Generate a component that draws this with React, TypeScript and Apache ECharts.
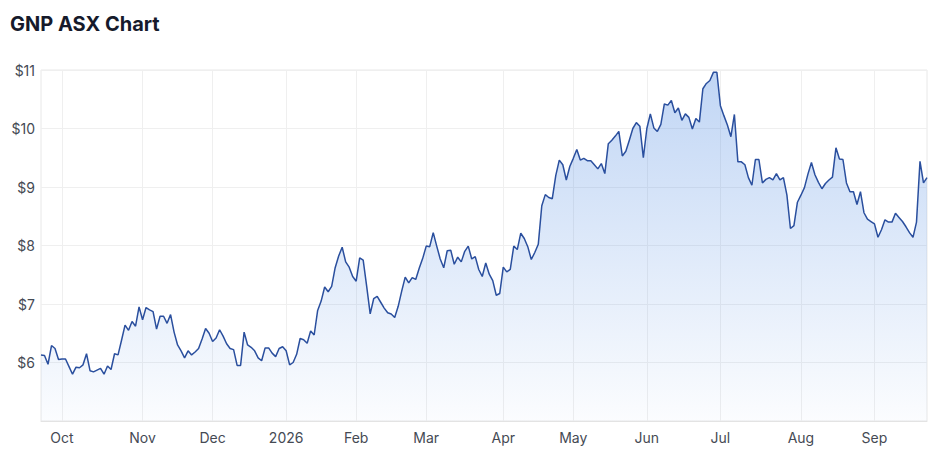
import React, { useEffect, useRef } from "react";
import * as echarts from "echarts";

// Trading days (ASX) from first to last point
const START_DATE = "2025-09-23";
const END_DATE = "2026-09-22";
const HOLIDAYS = [
  "2025-12-25", "2025-12-26", "2026-01-01", "2026-01-26",
  "2026-04-03", "2026-04-06", "2026-06-08",
];
const MONTH_NAMES = ["Jan", "Feb", "Mar", "Apr", "May", "Jun", "Jul", "Aug", "Sep", "Oct", "Nov", "Dec"];

// Daily closing prices
const PRICES = [
  6.13, 6.12, 5.97, 6.29, 6.24, 6.05, 6.06, 6.06, 5.93, 5.80,
  5.92, 5.91, 5.96, 6.15, 5.86, 5.84, 5.87, 5.90, 5.80, 5.94,
  5.88, 6.15, 6.13, 6.38, 6.64, 6.55, 6.70, 6.62, 6.95, 6.73,
  6.94, 6.90, 6.87, 6.57, 6.79, 6.79, 6.67, 6.82, 6.52, 6.30,
  6.20, 6.08, 6.20, 6.13, 6.18, 6.24, 6.40, 6.58, 6.50, 6.36,
  6.42, 6.56, 6.45, 6.32, 6.24, 6.22, 5.95, 5.95, 6.52, 6.30,
  6.26, 6.20, 6.08, 6.03, 6.25, 6.25, 6.16, 6.10, 6.24, 6.27,
  6.20, 5.96, 6.00, 6.14, 6.41, 6.39, 6.33, 6.54, 6.47, 6.89,
  7.05, 7.29, 7.21, 7.30, 7.62, 7.82, 7.97, 7.72, 7.63, 7.47,
  7.39, 7.79, 7.75, 7.30, 6.83, 7.09, 7.13, 7.03, 6.93, 6.85,
  6.83, 6.77, 6.96, 7.22, 7.46, 7.36, 7.45, 7.42, 7.61, 7.78,
  7.99, 7.98, 8.22, 7.99, 7.77, 7.62, 7.91, 7.92, 7.68, 7.80,
  7.72, 7.90, 7.99, 7.77, 7.81, 7.59, 7.47, 7.70, 7.51, 7.40,
  7.15, 7.18, 7.63, 7.55, 7.59, 7.99, 7.93, 8.21, 8.12, 7.98,
  7.76, 7.88, 8.02, 8.68, 8.87, 8.82, 8.80, 9.20, 9.46, 9.38,
  9.12, 9.35, 9.49, 9.64, 9.46, 9.49, 9.45, 9.45, 9.38, 9.31,
  9.40, 9.23, 9.74, 9.80, 9.87, 9.95, 9.53, 9.61, 9.80, 10.00,
  10.10, 10.04, 9.50, 10.00, 10.25, 10.01, 9.95, 10.07, 10.42, 10.40,
  10.48, 10.27, 10.35, 10.14, 10.25, 10.19, 9.99, 10.17, 10.11, 10.68,
  10.77, 10.82, 10.96, 10.96, 10.39, 10.22, 10.06, 9.86, 10.24, 9.43,
  9.43, 9.38, 9.16, 9.03, 9.47, 9.47, 9.07, 9.13, 9.16, 9.12,
  9.23, 9.12, 9.16, 8.86, 8.29, 8.34, 8.74, 8.86, 8.99, 9.22,
  9.42, 9.21, 9.08, 8.97, 9.06, 9.12, 9.17, 9.67, 9.48, 9.47,
  9.07, 8.92, 8.92, 8.70, 8.92, 8.56, 8.45, 8.41, 8.37, 8.14,
  8.27, 8.44, 8.40, 8.40, 8.55, 8.48, 8.41, 8.32, 8.22, 8.14,
  8.40, 9.44, 9.07, 9.16,
];

const Y_MIN = 5;
const Y_MAX = 11;
const Y_STEP = 1;

function tradingDays(): string[] {
  const out: string[] = [];
  const d = new Date(START_DATE + "T00:00:00Z");
  const end = new Date(END_DATE + "T00:00:00Z");
  while (d.getTime() <= end.getTime()) {
    const wd = d.getUTCDay();
    const iso = d.toISOString().slice(0, 10);
    if (wd !== 0 && wd !== 6 && HOLIDAYS.indexOf(iso) < 0) out.push(iso);
    d.setUTCDate(d.getUTCDate() + 1);
  }
  return out;
}

export default function App() {
  const ref = useRef<HTMLDivElement>(null);

  useEffect(() => {
    document.body.style.margin = "0";
    if (!ref.current) return;
    const chart = echarts.init(ref.current, null, { renderer: "svg" });
    const dates = tradingDays();
    const isMonthStart = (i: number) =>
      i > 0 && dates[i] && dates[i - 1] && dates[i].slice(0, 7) !== dates[i - 1].slice(0, 7);

    const font = "Inter, 'Noto Sans', sans-serif";

    chart.setOption({
      animation: false,
      backgroundColor: "#ffffff",
      title: {
        text: "GNP ASX Chart",
        left: 5,
        top: 9,
        textStyle: {
          fontFamily: font,
          fontSize: 20,
          fontWeight: 700,
          color: "#161a2b",
        },
      },
      grid: {
        left: 41,
        right: 8,
        top: 70,
        bottom: 31,
        show: true,
        borderColor: "#e8e8e8",
        borderWidth: 1,
      },
      xAxis: {
        type: "category",
        data: dates,
        boundaryGap: false,
        axisLine: { show: true, lineStyle: { color: "#e3e3e3" } },
        axisTick: { show: false },
        splitLine: {
          show: true,
          interval: (i: number) => isMonthStart(i),
          lineStyle: { color: "#efefef", width: 1 },
        },
        axisLabel: {
          interval: (i: number) => isMonthStart(i),
          margin: 9,
          color: "#454a54",
          fontFamily: font,
          fontSize: 14,
          formatter: (v: string) => {
            const m = parseInt(v.slice(5, 7), 10) - 1;
            return m === 0 ? v.slice(0, 4) : MONTH_NAMES[m];
          },
        },
      },
      yAxis: {
        type: "value",
        min: Y_MIN,
        max: Y_MAX,
        interval: Y_STEP,
        axisLine: { show: false },
        axisTick: { show: false },
        splitLine: { show: true, lineStyle: { color: "#efefef", width: 1 } },
        axisLabel: {
          showMinLabel: false,
          margin: 6,
          color: "#454a54",
          fontFamily: font,
          fontSize: 14,
          formatter: (v: number) => "$" + v,
        },
      },
      series: [
        {
          type: "line",
          data: PRICES,
          symbol: "none",
          smooth: false,
          lineStyle: { color: "#2a4f9e", width: 1.5 },
          itemStyle: { color: "#2a4f9e" },
          areaStyle: {
            color: new echarts.graphic.LinearGradient(0, 0, 0, 1, [
              { offset: 0, color: "rgba(78,138,226,0.50)" },
              { offset: 1, color: "rgba(78,138,226,0.03)" },
            ]),
          },
        },
      ],
    });

    return () => chart.dispose();
  }, []);

  return <div ref={ref} style={{ width: 935, height: 452 }} />;
}
